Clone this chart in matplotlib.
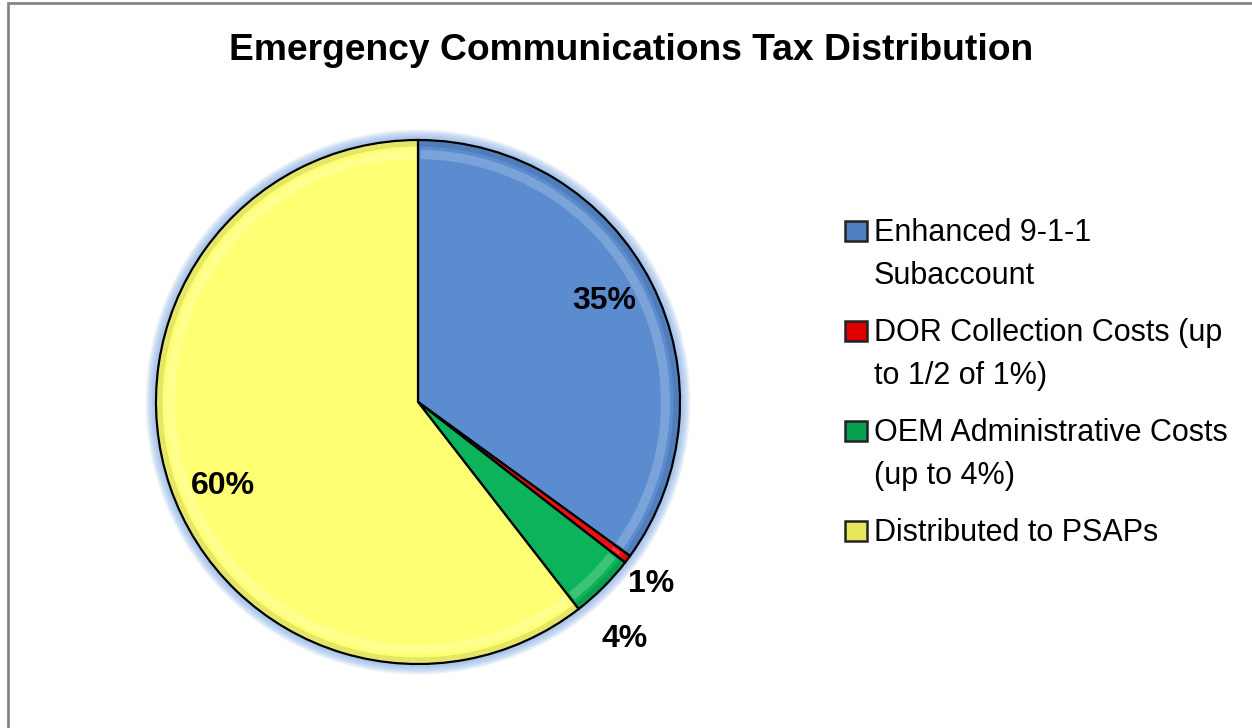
import numpy as np
import matplotlib
matplotlib.use("Agg")
import matplotlib.pyplot as plt
from matplotlib.patches import Rectangle, Circle, Wedge

# Chart data
categories = ["Enhanced 9-1-1\nSubaccount",
              "DOR Collection Costs (up\nto 1/2 of 1%)",
              "OEM Administrative Costs\n(up to 4%)",
              "Distributed to PSAPs"]
shares = [35, 0.5, 4, 60.5]
pct_labels = ["35%", "1%", "4%", "60%"]

slice_colors = ["#5B8CD0", "#F01010", "#0DB35A", "#FFFF73"]
key_colors = ["#4F7EC0", "#E00000", "#08A050", "#E8E85A"]

narrow = ["Liberation Sans Narrow", "Liberation Sans", "DejaVu Sans"]

W, H = 1252, 728
fig = plt.figure(figsize=(W / 100, H / 100), dpi=100)
fig.patch.set_facecolor("white")

# outer chart border (only top and left are visible in the crop)
fig.add_artist(Rectangle((7.5 / W, -0.1), 1.2, 1 - 3.5 / H + 0.1,
                         transform=fig.transFigure, fill=False,
                         edgecolor="#868686", linewidth=2))

fig.text(631.5 / W, 1 - 47 / H, "Emergency Communications Tax Distribution",
         ha="center", va="center_baseline", fontsize=26.8, fontweight="bold",
         family=["Liberation Sans", "DejaVu Sans"])

# pie axes
cx, cy, R = 418, 402, 262
ax = fig.add_axes([(cx - R) / W, (H - cy - R) / H, 2 * R / W, 2 * R / H])

wedges, _ = ax.pie(shares, colors=slice_colors, startangle=90, counterclock=False,
                   radius=1, wedgeprops=dict(edgecolor="black", linewidth=1.6))
ax.set_xlim(-1, 1)
ax.set_ylim(-1, 1)
ax.set_aspect("equal")
ax.axis("off")
for w in wedges:
    w.set_zorder(2)

# soft blue glow around the pie
for i in range(10):
    r = 1.04 - i * 0.004
    ax.add_patch(Circle((0, 0), r, facecolor="#8DB3E6", edgecolor="none",
                        alpha=0.13, zorder=0, clip_on=False))

# bevel highlight near the rim
for w in wedges:
    ax.add_patch(Wedge((0, 0), 0.962, w.theta1 + 0.6, w.theta2 - 0.6, width=0.035,
                       facecolor="white", edgecolor="none", alpha=0.2, zorder=3))
    ax.add_patch(Wedge((0, 0), 0.995, w.theta1, w.theta2, width=0.02,
                       facecolor="black", edgecolor="none", alpha=0.1, zorder=3))

# percentage labels
dist = [0.81, 1.13, 1.2, 0.81]
shift = [1.5, -1, -4, 4.5]
for w, lab, d, s in zip(wedges, pct_labels, dist, shift):
    ang = np.deg2rad((w.theta1 + w.theta2) / 2 + s)
    ax.text(d * np.cos(ang), d * np.sin(ang), lab, ha="center", va="center",
            fontsize=23, fontweight="bold", family=narrow, zorder=5, clip_on=False)

# legend drawn by hand: key square aligned with the first text line
line_gap = 43
y0 = 231
for lab, col in zip(categories, key_colors):
    fig.add_artist(Rectangle((845 / W, 1 - (y0 + 10) / H), 22 / W, 20 / H,
                             transform=fig.transFigure, facecolor=col,
                             edgecolor="#222222", linewidth=1.8))
    lines = lab.split("\n")
    for k, ln in enumerate(lines):
        fig.text(874 / W, 1 - (y0 + 2 + k * line_gap) / H, ln, ha="left", va="center",
                 fontsize=22, family=narrow)
    y0 += line_gap * len(lines) + 14

fig.savefig("out.png", dpi=100, facecolor="white")
